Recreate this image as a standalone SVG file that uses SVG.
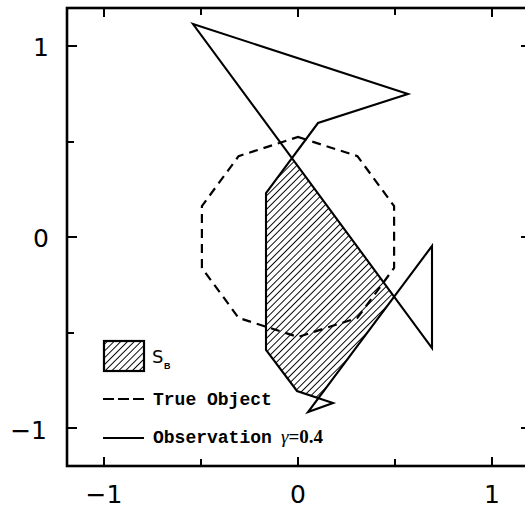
<svg xmlns="http://www.w3.org/2000/svg" width="525" height="510" viewBox="0 0 525 510">
  <defs>
    <pattern id="hatch" patternUnits="userSpaceOnUse" width="4.8" height="4.8" patternTransform="rotate(45)">
      <rect width="4.8" height="4.8" fill="#fff"/>
      <line x1="0" y1="0" x2="0" y2="4.8" stroke="#000" stroke-width="1.9"/>
    </pattern>
    <style>
      .frame { fill: none; stroke: #000; stroke-width: 2.6; }
      .tick { stroke: #000; stroke-width: 2; }
      .obs { fill: none; stroke: #000; stroke-width: 2.1; stroke-linejoin: miter; }
      .true { fill: none; stroke: #000; stroke-width: 2.2; stroke-dasharray: 9 6; }
      .num { font-family: "DejaVu Sans", "Liberation Sans", sans-serif; font-size: 25px; fill: #000; }
      .leg { font-family: "Liberation Mono", "DejaVu Sans Mono", monospace; font-weight: bold; font-size: 18px; fill: #000; }
    </style>
  </defs>
  <rect width="525" height="510" fill="#fff"/>

  <g id="axes">
    <rect class="frame" x="67" y="8" width="464" height="458"/>
    <g class="tick">
      <line x1="104" y1="8" x2="104" y2="17"/>
      <line x1="201" y1="8" x2="201" y2="15"/>
      <line x1="298" y1="8" x2="298" y2="17"/>
      <line x1="395" y1="8" x2="395" y2="15"/>
      <line x1="492" y1="8" x2="492" y2="17"/>
      <line x1="104" y1="466" x2="104" y2="457"/>
      <line x1="201" y1="466" x2="201" y2="459"/>
      <line x1="298" y1="466" x2="298" y2="457"/>
      <line x1="395" y1="466" x2="395" y2="459"/>
      <line x1="492" y1="466" x2="492" y2="457"/>
      <line x1="67" y1="46" x2="77" y2="46"/>
      <line x1="67" y1="142" x2="74" y2="142"/>
      <line x1="67" y1="237" x2="77" y2="237"/>
      <line x1="67" y1="333" x2="74" y2="333"/>
      <line x1="67" y1="428" x2="77" y2="428"/>
      <line x1="531" y1="46" x2="521" y2="46"/>
      <line x1="531" y1="237" x2="521" y2="237"/>
      <line x1="531" y1="428" x2="521" y2="428"/>
    </g>
    <g class="num">
      <text x="49" y="56" text-anchor="end">1</text>
      <text x="49" y="247" text-anchor="end">0</text>
      <text x="47" y="439" text-anchor="end">−1</text>
      <text x="104" y="503" text-anchor="middle">−1</text>
      <text x="298" y="503" text-anchor="middle">0</text>
      <text x="492" y="503" text-anchor="middle">1</text>
    </g>
  </g>

  <g id="sb-region">
    <polygon points="266,193 291.9,158.1 394.1,296.6 318.4,398.1 297,391 266,350" fill="url(#hatch)" stroke="none"/>
  </g>

  <g id="true-object">
    <polygon class="true" points="298,137 357.4,156.1 394.1,206.1 394.1,267.9 357.4,317.9 298,337 238.6,317.9 201.9,267.9 201.9,206.1 238.6,156.1"/>
  </g>

  <g id="observation">
    <polygon class="obs" points="193,24 408,94 318,123 266,193 266,350 297,391 333,403 308,412 432,246 432,348"/>
  </g>

  <g id="legend">
    <rect x="104" y="341" width="40" height="30" fill="url(#hatch)" stroke="#000" stroke-width="2.2"/>
    <text x="152" y="363" font-family="DejaVu Sans, sans-serif" font-size="18">S</text>
    <text x="164" y="369" font-family="Liberation Sans, sans-serif" font-weight="bold" font-size="9">B</text>
    <line x1="103" y1="399" x2="144" y2="399" stroke="#000" stroke-width="2.2" stroke-dasharray="11 4"/>
    <text class="leg" x="153" y="405">True Object</text>
    <line x1="103" y1="438" x2="144" y2="438" stroke="#000" stroke-width="2.2"/>
    <text class="leg" x="153" y="443">Observation</text>
    <text x="281" y="443" font-family="Liberation Serif, serif" font-size="19" font-weight="bold"><tspan font-style="italic" font-weight="normal">γ</tspan>=0.4</text>
  </g>
</svg>
